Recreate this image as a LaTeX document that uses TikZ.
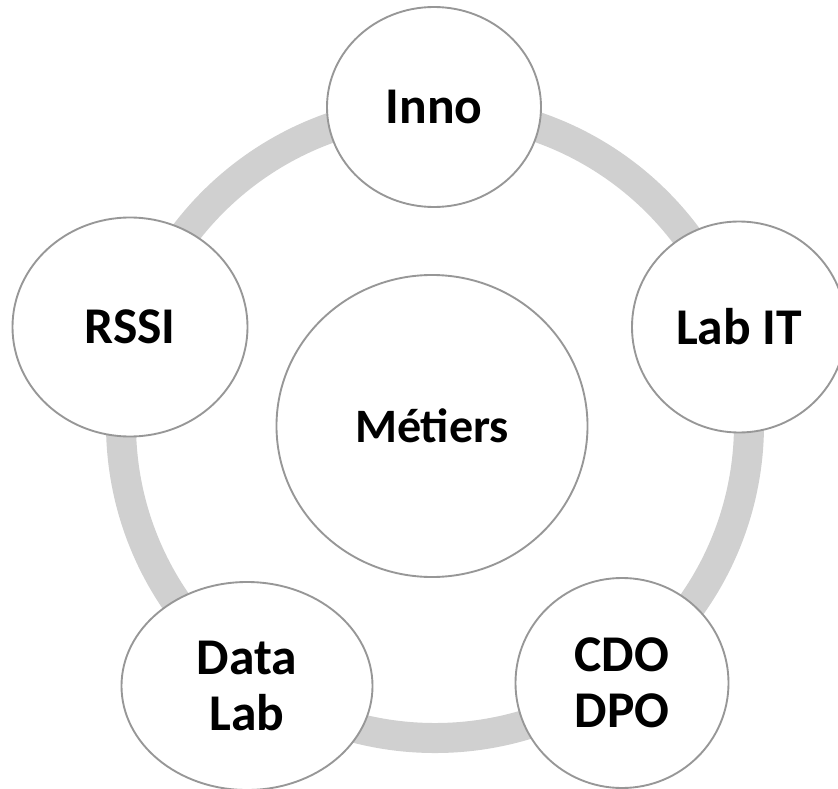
\documentclass[tikz,border=0pt]{standalone}
\usepackage{fontspec}
\setmainfont{Carlito}
\usetikzlibrary{shapes.geometric}
\definecolor{ringgrey}{HTML}{D0D0D0}
\definecolor{rimgrey}{HTML}{979797}

\begin{document}
\begin{tikzpicture}[x=0.03cm, y=-0.03cm,
  bubble/.style={ellipse, draw=rimgrey, line width=1.6pt, fill=white, inner sep=0pt,
    align=center, font=\fontsize{44}{48}\selectfont\bfseries}]
  \useasboundingbox (0,0) rectangle (838,789);

  % ring behind the bubbles
  \draw[ringgrey, line width=0.9cm] (435,424) circle [radius=9.42cm];

  % centre bubble
  \node[bubble, minimum width=9.33cm, minimum height=9.06cm,
    font=\fontsize{41}{46}\selectfont\bfseries] (metiers) at (432,426) {Métiers};

  % outer bubbles: name/x/y/width/height/text
  \foreach \name/\x/\y/\w/\h/\txt in {
      inno/434/107/6.42/6.0/Inno,
      labit/739/327/6.42/6.33/Lab IT,
      rssi/130/327/7.05/6.57/RSSI,
      datalab/247/686/7.53/6.24/{Data\\Lab},
      cdodpo/622/683/6.39/6.3/{CDO\\DPO}}
    \node[bubble, minimum width=\w cm, minimum height=\h cm] (\name) at (\x,\y) {\txt};
\end{tikzpicture}
\end{document}
